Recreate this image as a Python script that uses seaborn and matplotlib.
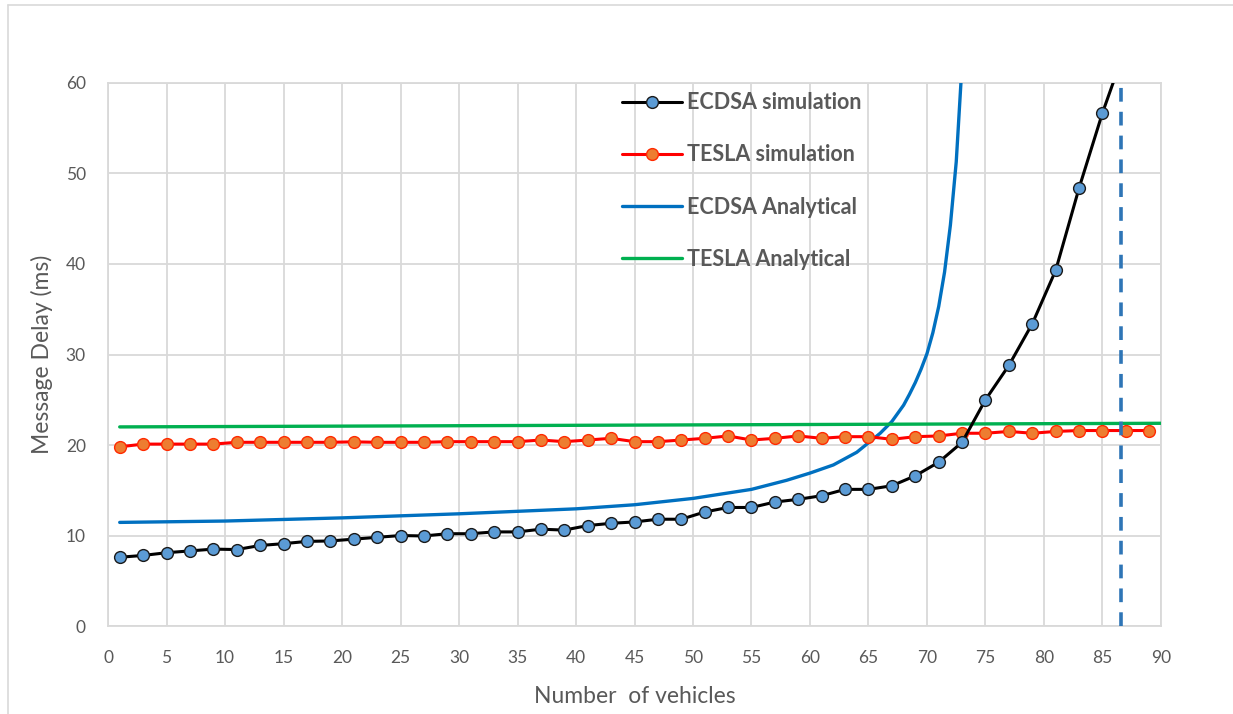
import matplotlib
matplotlib.use("Agg")
import matplotlib.pyplot as plt
import seaborn as sns
import pandas as pd
from matplotlib.lines import Line2D

# ---------------- data ----------------
sim_x_ecdsa = list(range(1, 88, 2))
ecdsa_sim = [7.6, 7.8, 8.1, 8.3, 8.5, 8.45, 8.9, 9.1, 9.35, 9.4,
             9.6, 9.8, 10.0, 9.95, 10.2, 10.2, 10.4, 10.4, 10.7, 10.6,
             11.1, 11.35, 11.5, 11.8, 11.8, 12.6, 13.1, 13.1, 13.7, 14.0,
             14.4, 15.1, 15.1, 15.5, 16.6, 18.1, 20.3, 25.0, 28.8, 33.4,
             39.3, 48.4, 56.7, 64.0]

sim_x_tesla = list(range(1, 90, 2))
tesla_sim = [19.8, 20.1, 20.1, 20.1, 20.1, 20.3, 20.3, 20.3, 20.3, 20.3,
             20.35, 20.3, 20.3, 20.3, 20.37, 20.37, 20.37, 20.37, 20.55, 20.37,
             20.55, 20.74, 20.37, 20.37, 20.55, 20.74, 21.0, 20.55, 20.74, 21.0,
             20.74, 20.92, 20.92, 20.63, 20.92, 21.0, 21.3, 21.3, 21.5, 21.3,
             21.5, 21.6, 21.6, 21.6, 21.6]

ana_x_ecdsa = [1, 10, 20, 30, 40, 45, 50, 55, 58, 60, 62, 64, 66, 67, 68,
               68.5, 69, 69.5, 70, 70.5, 71, 71.5, 72, 72.5, 72.9]
ecdsa_ana = [11.45, 11.6, 11.95, 12.4, 12.95, 13.4, 14.1, 15.1, 16.1, 16.9,
             17.8, 19.2, 21.3, 22.6, 24.4, 25.6, 26.9, 28.4, 30.1, 32.4,
             35.3, 39.1, 44.3, 51.3, 60.0]

ana_x_tesla = [1, 45, 90]
tesla_ana = [22.0, 22.2, 22.4]

limit_x = 86.6

labels = ["ECDSA simulation", "TESLA simulation", "ECDSA Analytical", "TESLA Analytical"]
x_ticks = list(range(0, 91, 5))
y_ticks = list(range(0, 61, 10))

# ---------------- styling ----------------
sns.set_theme(style="whitegrid")
plt.rcParams['font.family'] = ['Lato', 'DejaVu Sans']

fig = plt.figure(figsize=(12.33, 7.14), dpi=100)
ax = fig.add_axes([0.0876, 0.1232, 0.8540, 0.7606])

grid_c = "#D9D9D9"
text_c = "#595959"

df_es = pd.DataFrame({"x": sim_x_ecdsa, "y": ecdsa_sim})
df_ts = pd.DataFrame({"x": sim_x_tesla, "y": tesla_sim})
df_ea = pd.DataFrame({"x": ana_x_ecdsa, "y": ecdsa_ana})
df_ta = pd.DataFrame({"x": ana_x_tesla, "y": tesla_ana})

sns.lineplot(data=df_ea, x="x", y="y", ax=ax, color="#0070C0", lw=2.4, zorder=3)
sns.lineplot(data=df_ta, x="x", y="y", ax=ax, color="#00B050", lw=2.4, zorder=3)
sns.lineplot(data=df_ts, x="x", y="y", ax=ax, color="#FF0000", lw=2.2,
             marker="o", markersize=8.5, markerfacecolor="#ED7D31",
             markeredgecolor="#FF2A00", markeredgewidth=1.0, zorder=4)
sns.lineplot(data=df_es, x="x", y="y", ax=ax, color="black", lw=2.2,
             marker="o", markersize=8.5, markerfacecolor="#5B9BD5",
             markeredgecolor="#1A1A1A", markeredgewidth=1.0, zorder=5)
ax.axvline(limit_x, color="#2E75B6", lw=2.6, linestyle=(0, (3.8, 2.8)), zorder=6)

ax.set_xlim(0, 90)
ax.set_ylim(0, 60)
ax.set_xticks(x_ticks)
ax.set_yticks(y_ticks)
ax.grid(True, color=grid_c, lw=1.3)
for s in ax.spines.values():
    s.set_color(grid_c)
    s.set_linewidth(1.3)
ax.tick_params(axis="both", colors=text_c, labelsize=12.5, length=0)
ax.tick_params(axis="x", pad=17)
ax.tick_params(axis="y", pad=16)
ax.set_xlabel("Number  of vehicles", color=text_c, fontsize=16.5, labelpad=15)
ax.set_ylabel("Message Delay (ms)", color=text_c, fontsize=16.5, labelpad=9)

handles = [
    Line2D([], [], color="black", lw=2.2, marker="o", markersize=8.5,
           markerfacecolor="#5B9BD5", markeredgecolor="#1A1A1A"),
    Line2D([], [], color="#FF0000", lw=2.2, marker="o", markersize=8.5,
           markerfacecolor="#ED7D31", markeredgecolor="#FF2A00"),
    Line2D([], [], color="#0070C0", lw=2.4),
    Line2D([], [], color="#00B050", lw=2.4),
]
leg = ax.legend(handles, labels, loc="upper left", bbox_to_anchor=(0.478, 1.003),
                frameon=False, handlelength=2.8, labelspacing=1.45,
                handletextpad=0.2, borderpad=0,
                prop={"size": 15.5, "weight": "bold"})
for t in leg.get_texts():
    t.set_color(text_c)

# outer chart border (light grey)
fig.add_artist(Line2D([8/1233, 8/1233], [0, 1 - 5/714], transform=fig.transFigure,
                      color=grid_c, lw=1.2))
fig.add_artist(Line2D([8/1233, 1], [1 - 5/714, 1 - 5/714], transform=fig.transFigure,
                      color=grid_c, lw=1.2))

fig.savefig("out.png", dpi=100)
